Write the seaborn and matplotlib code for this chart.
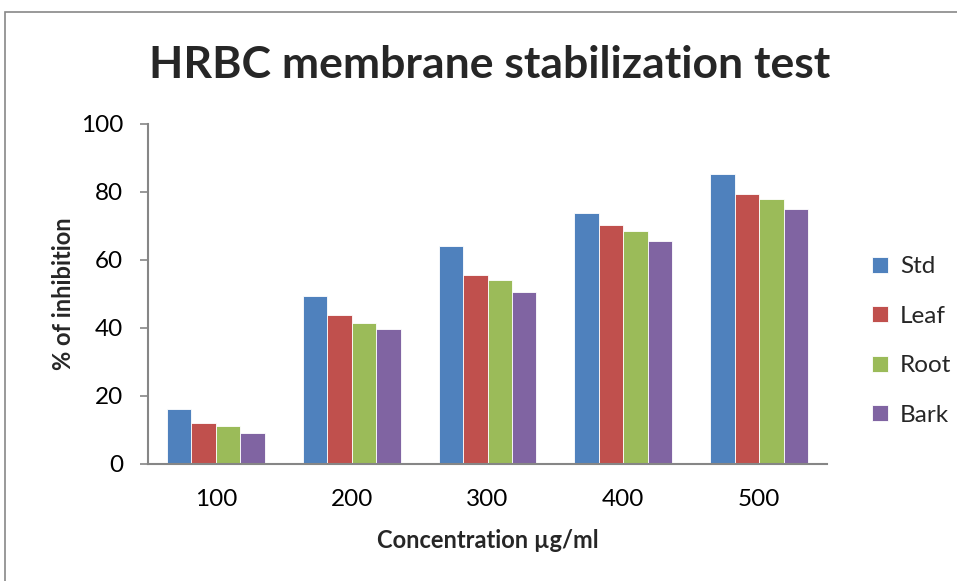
import matplotlib
matplotlib.use("Agg")
import matplotlib.pyplot as plt
import seaborn as sns
import pandas as pd
from matplotlib.patches import Rectangle

concentrations = ["100", "200", "300", "400", "500"]
std = [16.2, 49.3, 64.0, 73.7, 85.4]
leaf = [12.2, 43.9, 55.6, 70.2, 79.5]
root = [11.3, 41.5, 54.1, 68.5, 78.0]
bark = [9.0, 39.6, 50.5, 65.5, 74.9]
series_names = ["Std", "Leaf", "Root", "Bark"]
colors = ["#4F81BD", "#C0504D", "#9BBB59", "#8064A2"]

rows = []
for name, vals in zip(series_names, [std, leaf, root, bark]):
    for c, v in zip(concentrations, vals):
        rows.append({"Concentration": c, "Value": v, "Series": name})
df = pd.DataFrame(rows)

sns.set_theme(style="white")
plt.rcParams["font.family"] = ["Lato", "DejaVu Sans"]

fig = plt.figure(figsize=(9.57, 5.81), dpi=100)
ax = fig.add_axes([148 / 957, 1 - 464 / 581, (827 - 148) / 957, (464 - 124) / 581])

sns.barplot(data=df, x="Concentration", y="Value", hue="Series",
            order=concentrations, hue_order=series_names, palette=colors,
            width=0.72, gap=0, edgecolor="white", linewidth=0.6,
            saturation=1, ax=ax, errorbar=None)

ax.set_ylim(0, 100)
ax.set_yticks([0, 20, 40, 60, 80, 100])
ax.set_xlim(-0.5, 4.5)
for s in ["top", "right"]:
    ax.spines[s].set_visible(False)
for s in ["left", "bottom"]:
    ax.spines[s].set_color("#868686")
    ax.spines[s].set_linewidth(1.5)
ax.tick_params(axis="y", which="major", left=True, length=6, width=1.2,
               color="#868686", labelsize=17.5, pad=12)
ax.tick_params(axis="x", bottom=False, labelsize=17.5, pad=12)
for lbl in ax.get_xticklabels() + ax.get_yticklabels():
    lbl.set_color("black")

ax.set_xlabel("Concentration µg/ml", fontsize=17, fontweight="bold", labelpad=14)
ax.set_ylabel("% of inhibition", fontsize=17, fontweight="bold", labelpad=4)

fig.text(490 / 957, 1 - 65 / 581, "HRBC membrane stabilization test",
         ha="center", va="center", fontsize=32, fontweight="bold")

leg = ax.legend(loc="center left", bbox_to_anchor=(850 / 957, 1 - 341 / 581),
                bbox_transform=fig.transFigure, frameon=False, fontsize=17.5,
                handlelength=0.65, handleheight=0.65, handletextpad=0.5,
                labelspacing=1.17)

fig.patches.append(Rectangle((5 / 957, -0.1), 1.2, 1 - 12 / 581 + 0.1,
                             transform=fig.transFigure, fill=False,
                             edgecolor="#888888", linewidth=1.2))

fig.savefig("out.png", dpi=100)
